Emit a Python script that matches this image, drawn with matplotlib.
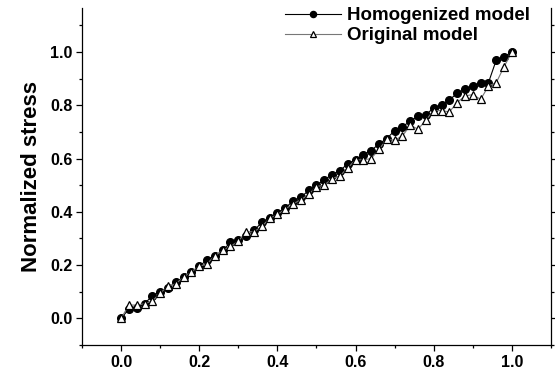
"""Normalized stress: homogenized vs original model."""
import matplotlib
matplotlib.use("Agg")
import matplotlib.pyplot as plt
from matplotlib.ticker import MultipleLocator

plt.rcParams["font.family"] = ["Liberation Sans", "DejaVu Sans"]
plt.rcParams["font.weight"] = "bold"

# 数据
strain = [0.00, 0.02, 0.04, 0.06, 0.08, 0.10, 0.12, 0.14, 0.16, 0.18,
          0.20, 0.22, 0.24, 0.26, 0.28, 0.30, 0.32, 0.34, 0.36, 0.38,
          0.40, 0.42, 0.44, 0.46, 0.48, 0.50, 0.52, 0.54, 0.56, 0.58,
          0.60, 0.62, 0.64, 0.66, 0.68, 0.70, 0.72, 0.74, 0.76, 0.78,
          0.80, 0.82, 0.84, 0.86, 0.88, 0.90, 0.92, 0.94, 0.96, 0.98, 1.00]

homogenized = [0.000, 0.035, 0.040, 0.055, 0.085, 0.100, 0.115, 0.135, 0.155, 0.175,
               0.195, 0.220, 0.235, 0.255, 0.285, 0.295, 0.310, 0.330, 0.360, 0.375,
               0.395, 0.415, 0.440, 0.455, 0.480, 0.500, 0.520, 0.540, 0.555, 0.580,
               0.595, 0.615, 0.630, 0.655, 0.675, 0.705, 0.720, 0.740, 0.760, 0.765,
               0.790, 0.800, 0.820, 0.845, 0.860, 0.873, 0.885, 0.885, 0.970, 0.982, 1.000]

original = [0.000, 0.050, 0.050, 0.055, 0.065, 0.095, 0.120, 0.130, 0.155, 0.175,
            0.195, 0.205, 0.235, 0.255, 0.270, 0.290, 0.325, 0.325, 0.345, 0.375,
            0.390, 0.410, 0.430, 0.445, 0.465, 0.495, 0.500, 0.525, 0.535, 0.565,
            0.595, 0.595, 0.600, 0.635, 0.672, 0.669, 0.685, 0.725, 0.710, 0.745,
            0.780, 0.780, 0.775, 0.810, 0.835, 0.840, 0.822, 0.872, 0.885, 0.945, 1.000]

fig = plt.figure(figsize=(5.55, 3.76), dpi=100)
ax = fig.add_axes([0.1477, 0.0824, 0.8451, 0.8963])

ax.plot(strain, homogenized, color="black", linewidth=0.8, marker="o",
        markersize=5.5, markerfacecolor="black", markeredgecolor="black",
        label="Homogenized model")
ax.plot(strain, original, color="#777777", linewidth=0.8, marker="^",
        markersize=6, markerfacecolor="white", markeredgecolor="black",
        markeredgewidth=0.9, label="Original model")

ax.set_xlim(-0.1, 1.1)
ax.set_ylim(-0.1, 1.165)
ax.set_xticks([0.0, 0.2, 0.4, 0.6, 0.8, 1.0])
ax.set_yticks([0.0, 0.2, 0.4, 0.6, 0.8, 1.0])
ax.xaxis.set_minor_locator(MultipleLocator(0.1))
ax.yaxis.set_minor_locator(MultipleLocator(0.1))
ax.set_xticklabels(["0.0", "0.2", "0.4", "0.6", "0.8", "1.0"])
ax.set_yticklabels(["0.0", "0.2", "0.4", "0.6", "0.8", "1.0"])

ax.spines["top"].set_visible(False)
for s in ["left", "right", "bottom"]:
    ax.spines[s].set_linewidth(0.9)

ax.tick_params(axis="both", which="major", direction="out", length=4,
               width=0.9, labelsize=11.5, pad=3)
ax.tick_params(axis="both", which="minor", direction="out", length=2.5, width=0.9)
ax.tick_params(axis="y", which="both", right=True, labelright=False)
ax.tick_params(axis="y", which="both", right=True, length=2.5)
ax.tick_params(axis="y", which="major", left=True, length=4)
ax.tick_params(axis="x", which="both", top=False)

ax.set_ylabel("Normalized stress", fontsize=16, fontweight="bold", labelpad=6)

leg = ax.legend(loc="upper right", bbox_to_anchor=(0.972, 1.025), frameon=False,
                fontsize=13.5, handlelength=3.0, handletextpad=0.35,
                labelspacing=0.15, borderaxespad=0.0, markerscale=0.8)
for t in leg.get_texts():
    t.set_fontweight("bold")

fig.savefig("out.png", dpi=100)
